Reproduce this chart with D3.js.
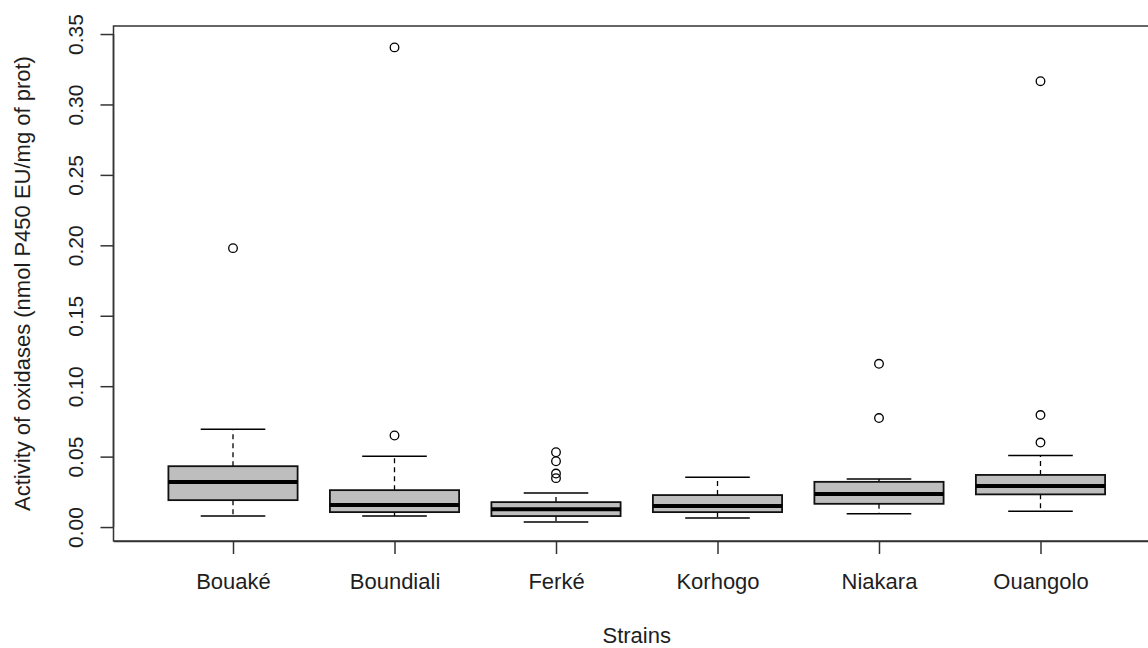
<!DOCTYPE html>
<head>
<style>
body { margin: 0; background: #fff; }
text { font-family: "Liberation Sans", Arial, sans-serif; fill: #1e1e1e; }
.frame { fill: none; stroke: #333; stroke-width: 1.5px; }
</style>
<meta charset="utf-8">
<title></title>
</head>

<body>
<script src="https://cdn.jsdelivr.net/npm/d3@7/dist/d3.min.js"></script>

<script>
// Boxplot stats (one entry per strain)
var strains = ["Bouaké", "Boundiali", "Ferké", "Korhogo", "Niakara", "Ouangolo"];
var lowerWhisker = [0.0078, 0.0078, 0.0035, 0.0064, 0.0094, 0.0113];
var q1 = [0.0191, 0.0106, 0.0078, 0.0106, 0.0165, 0.0232];
var median = [0.0319, 0.0156, 0.0127, 0.0149, 0.0234, 0.0292];
var q3 = [0.0432, 0.0262, 0.0177, 0.0227, 0.0321, 0.0370];
var upperWhisker = [0.0694, 0.0503, 0.0241, 0.0354, 0.0342, 0.0508];
var outliers = [
    [0.198],
    [0.065, 0.3405],
    [0.0347, 0.038, 0.0467, 0.0531],
    [],
    [0.0774, 0.1159],
    [0.06, 0.0795, 0.3165]
];
var yTicks = [0, 0.05, 0.10, 0.15, 0.20, 0.25, 0.30, 0.35];

var width = 1148,
    height = 648;

var plotLeft = 113.5, plotRight = 1160, plotTop = 26, plotBottom = 541;

var svg = d3.select("body").append("svg")
            .attr("width", width)
            .attr("height", height);

// categories sit at 1..6 with R's padded range, so the right edge runs off the page
var x = d3.scalePoint()
    .domain(strains)
    .range([plotLeft, plotRight])
    .padding(0.74);

var y = d3.scaleLinear()
    .domain([-0.0099, 0.3557])
    .range([plotBottom, plotTop]);

var step = x.step();
var boxW = 0.8 * step,
    capW = 0.4 * step;

var rows = strains.map(function(s, i) {
    return { name: s, lw: lowerWhisker[i], q1: q1[i], med: median[i], q3: q3[i], uw: upperWhisker[i], out: outliers[i] };
});

var g = svg.append("g");

var box = g.selectAll(".box")
    .data(rows)
    .enter().append("g")
    .attr("class", "box")
    .attr("transform", function(d) { return "translate(" + x(d.name) + ",0)"; });

// dashed whiskers
box.append("line")
    .attr("y1", function(d) { return y(d.q3); })
    .attr("y2", function(d) { return y(d.uw); })
    .attr("stroke", "#000").attr("stroke-width", 1.3).attr("stroke-dasharray", "5,4");
box.append("line")
    .attr("y1", function(d) { return y(d.q1); })
    .attr("y2", function(d) { return y(d.lw); })
    .attr("stroke", "#000").attr("stroke-width", 1.3).attr("stroke-dasharray", "5,4");

// staples
box.append("line")
    .attr("x1", -capW / 2).attr("x2", capW / 2)
    .attr("y1", function(d) { return y(d.uw); })
    .attr("y2", function(d) { return y(d.uw); })
    .attr("stroke", "#000").attr("stroke-width", 1.5);
box.append("line")
    .attr("x1", -capW / 2).attr("x2", capW / 2)
    .attr("y1", function(d) { return y(d.lw); })
    .attr("y2", function(d) { return y(d.lw); })
    .attr("stroke", "#000").attr("stroke-width", 1.5);

box.append("rect")
    .attr("x", -boxW / 2)
    .attr("width", boxW)
    .attr("y", function(d) { return y(d.q3); })
    .attr("height", function(d) { return y(d.q1) - y(d.q3); })
    .attr("fill", "#bebebe")
    .attr("stroke", "#111")
    .attr("stroke-width", 1.8);

box.append("line")
    .attr("x1", -boxW / 2).attr("x2", boxW / 2)
    .attr("y1", function(d) { return y(d.med); })
    .attr("y2", function(d) { return y(d.med); })
    .attr("stroke", "#000").attr("stroke-width", 4);

box.selectAll("circle")
    .data(function(d) { return d.out; })
    .enter().append("circle")
    .attr("r", 4.3)
    .attr("cy", function(v) { return y(v); })
    .attr("fill", "none")
    .attr("stroke", "#000")
    .attr("stroke-width", 1.3);

// axes
var xAxis = svg.append("g")
    .attr("transform", "translate(0," + plotBottom + ")")
    .call(d3.axisBottom(x).tickSize(13).tickSizeOuter(0).tickPadding(19));
xAxis.selectAll("text").style("font-size", "22px");

var yAxis = svg.append("g")
    .attr("transform", "translate(" + plotLeft + ",0)")
    .call(d3.axisLeft(y).tickValues(yTicks).tickFormat(d3.format(".2f")).tickSize(13).tickSizeOuter(0));
yAxis.select(".domain").attr("d", "M0," + y(0) + "V" + y(0.35));
yAxis.selectAll("text")
    .style("font-size", "21px")
    .attr("x", 0).attr("y", -31).attr("dy", null)
    .attr("text-anchor", "middle")
    .attr("transform", "rotate(-90)");

svg.selectAll(".domain, .tick line").attr("stroke", "#333").attr("stroke-width", 1.5);

svg.append("rect")
    .attr("class", "frame")
    .attr("x", plotLeft).attr("y", plotTop)
    .attr("width", plotRight - plotLeft)
    .attr("height", plotBottom - plotTop);

svg.append("text")
    .attr("x", (plotLeft + plotRight) / 2)
    .attr("y", 643)
    .attr("text-anchor", "middle")
    .style("font-size", "22px")
    .text("Strains");

svg.append("text")
    .attr("transform", "translate(30," + (plotTop + plotBottom) / 2 + ") rotate(-90)")
    .attr("text-anchor", "middle")
    .style("font-size", "22px")
    .text("Activity of oxidases (nmol P450 EU/mg of prot)");
</script>
</body>
</html>
